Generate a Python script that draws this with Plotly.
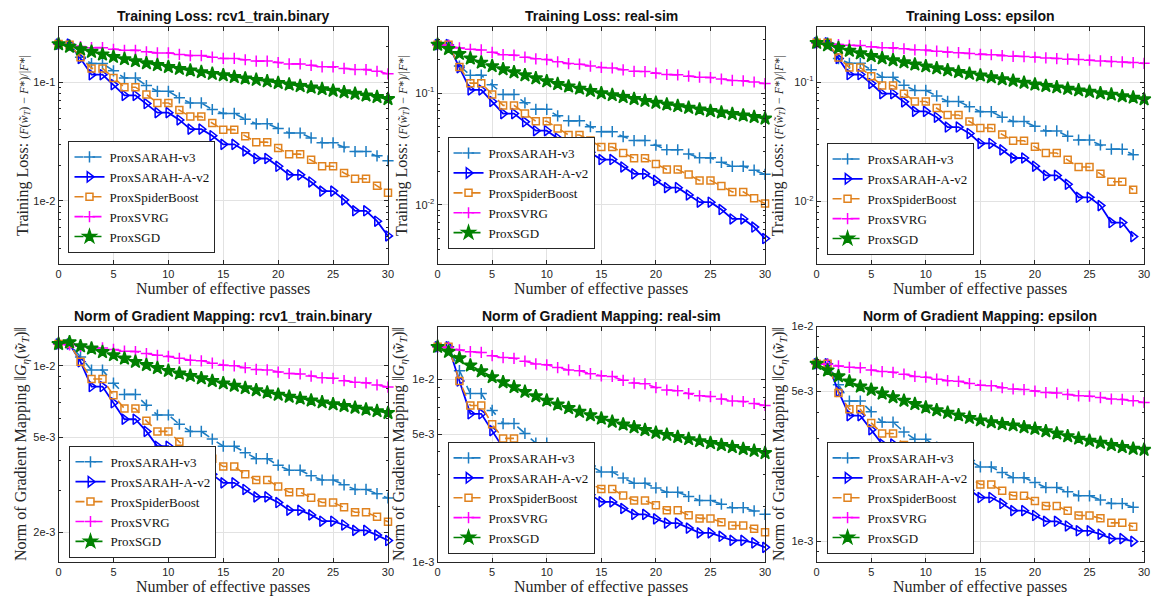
import plotly.graph_objects as go

# ---------------- data ----------------
passes = list(range(31))

methods = ["ProxSARAH-v3", "ProxSARAH-A-v2", "ProxSpiderBoost", "ProxSVRG", "ProxSGD"]

# Training loss: rcv1_train.binary
rcv1_loss_sarah_v3 = [0.210,0.205,0.163,0.144,0.144,0.125,0.109,0.109,0.094,0.084,0.084,0.074,0.067,0.067,0.059,0.0547,0.0547,0.0489,0.0447,0.0447,0.0409,0.0374,0.0374,0.034,0.0309,0.0309,0.0285,0.0261,0.0261,0.024,0.0218]
rcv1_loss_sarah_a = [0.210,0.210,0.159,0.116,0.116,0.0957,0.0776,0.0776,0.0662,0.0555,0.0555,0.0482,0.0403,0.0403,0.0355,0.030,0.030,0.0264,0.0228,0.0228,0.0196,0.0166,0.0166,0.01445,0.0121,0.0121,0.0102,0.00826,0.00826,0.00675,0.00507]
rcv1_loss_spider = [0.210,0.207,0.163,0.131,0.131,0.109,0.091,0.091,0.079,0.067,0.067,0.0583,0.0514,0.0514,0.0453,0.0399,0.0399,0.0351,0.0313,0.0313,0.0279,0.0248,0.0248,0.0222,0.0196,0.0196,0.0172,0.0154,0.0154,0.0134,0.0117]
rcv1_loss_svrg = [0.210,0.205,0.200,0.196,0.196,0.190,0.186,0.186,0.181,0.177,0.177,0.172,0.168,0.168,0.163,0.159,0.159,0.155,0.151,0.151,0.147,0.143,0.143,0.139,0.135,0.135,0.131,0.128,0.128,0.124,0.118]
rcv1_loss_sgd = [0.210,0.200,0.190,0.181,0.172,0.164,0.157,0.151,0.145,0.140,0.135,0.130,0.126,0.122,0.118,0.115,0.111,0.108,0.105,0.102,0.0989,0.0959,0.0931,0.0904,0.0877,0.0851,0.0826,0.0802,0.0776,0.0752,0.0724]

# Training loss: real-sim
realsim_loss_sarah_v3 = [0.272,0.270,0.175,0.145,0.145,0.119,0.0973,0.0973,0.082,0.0718,0.0718,0.0627,0.0566,0.0566,0.0501,0.0453,0.0453,0.0409,0.0377,0.0377,0.0343,0.0312,0.0312,0.0286,0.0264,0.0264,0.0241,0.0222,0.0222,0.0205,0.0188]
realsim_loss_sarah_a = [0.272,0.272,0.169,0.107,0.107,0.0844,0.0657,0.0657,0.0555,0.0462,0.0462,0.0396,0.0338,0.0338,0.0296,0.0255,0.0255,0.0219,0.019,0.019,0.0166,0.0143,0.0143,0.0123,0.0106,0.0106,0.0091,0.0075,0.0075,0.00635,0.00501]
realsim_loss_spider = [0.272,0.272,0.172,0.123,0.123,0.0973,0.0778,0.0778,0.0657,0.0562,0.0562,0.0484,0.0423,0.0423,0.0377,0.033,0.033,0.0292,0.0262,0.0262,0.0233,0.0208,0.0208,0.0187,0.0166,0.0166,0.0148,0.0131,0.0131,0.0115,0.0103]
realsim_loss_svrg = [0.272,0.268,0.254,0.247,0.244,0.232,0.221,0.219,0.210,0.203,0.200,0.191,0.184,0.182,0.175,0.170,0.168,0.162,0.157,0.156,0.151,0.147,0.146,0.142,0.139,0.138,0.134,0.130,0.129,0.126,0.122]
realsim_loss_sgd = [0.272,0.249,0.225,0.205,0.188,0.175,0.164,0.154,0.145,0.136,0.128,0.121,0.115,0.110,0.105,0.100,0.0962,0.0925,0.0889,0.0855,0.0822,0.0794,0.0767,0.0741,0.0716,0.0693,0.0673,0.0652,0.0632,0.0614,0.0594]

# Training loss: epsilon
eps_loss_sarah_v3 = [0.214,0.214,0.158,0.144,0.144,0.127,0.110,0.110,0.0944,0.0853,0.0853,0.0767,0.0689,0.0689,0.0622,0.0566,0.0566,0.0508,0.0468,0.0468,0.0426,0.039,0.039,0.0352,0.0327,0.0327,0.0297,0.0274,0.0274,0.0246]
eps_loss_sarah_a = [0.214,0.214,0.158,0.116,0.116,0.0975,0.0801,0.0801,0.0684,0.0569,0.0569,0.0508,0.042,0.042,0.0371,0.0306,0.0306,0.027,0.0231,0.0231,0.0197,0.0165,0.0165,0.0139,0.0108,0.0108,0.0092,0.00663,0.00663,0.00505]
eps_loss_spider = [0.214,0.214,0.161,0.133,0.133,0.112,0.0939,0.0939,0.0801,0.0689,0.0689,0.0607,0.0531,0.0531,0.0468,0.0412,0.0412,0.0363,0.0322,0.0322,0.0287,0.0254,0.0254,0.0223,0.0194,0.0194,0.017,0.0146,0.0146,0.0125]
eps_loss_svrg = [0.214,0.211,0.207,0.204,0.203,0.198,0.195,0.195,0.191,0.187,0.186,0.182,0.179,0.177,0.174,0.171,0.170,0.167,0.165,0.164,0.162,0.160,0.158,0.156,0.155,0.153,0.151,0.149,0.148,0.146,0.144]
eps_loss_sgd = [0.214,0.204,0.194,0.184,0.175,0.166,0.159,0.153,0.147,0.141,0.136,0.131,0.126,0.122,0.118,0.114,0.110,0.106,0.103,0.0991,0.0957,0.0931,0.0906,0.0881,0.0855,0.0832,0.0809,0.0787,0.0764,0.0743,0.0719]

# Norm of gradient mapping: rcv1_train.binary
rcv1_grad_sarah_v3 = [0.01236,0.01236,0.0109,0.0096,0.0096,0.00846,0.00759,0.00759,0.00684,0.00622,0.00622,0.00569,0.00531,0.00531,0.00493,0.0046,0.0046,0.00432,0.00408,0.00408,0.00383,0.00365,0.00365,0.00346,0.00332,0.00332,0.00317,0.00303,0.00303,0.00291,0.00279]
rcv1_grad_sarah_a = [0.01236,0.01236,0.0104,0.00819,0.00819,0.0070,0.00597,0.00597,0.00531,0.0046,0.0046,0.00421,0.0038,0.0038,0.00351,0.00323,0.00323,0.00303,0.00282,0.00282,0.00267,0.00248,0.00248,0.00237,0.00223,0.00223,0.00215,0.00204,0.00204,0.00195,0.00185]
rcv1_grad_spider = [0.01236,0.01236,0.0104,0.00881,0.00881,0.00752,0.00662,0.00662,0.00588,0.00531,0.00531,0.0048,0.00443,0.00443,0.00408,0.00378,0.00378,0.00351,0.00332,0.00332,0.00312,0.00295,0.00295,0.0028,0.00267,0.00267,0.00255,0.00243,0.00243,0.00233,0.00222]
rcv1_grad_svrg = [0.01236,0.01225,0.01208,0.01194,0.01189,0.01172,0.01153,0.01148,0.01127,0.01107,0.01096,0.01076,0.01057,0.0105,0.01026,0.01007,0.0100,0.00982,0.00966,0.00962,0.00942,0.00929,0.00925,0.00906,0.00891,0.00887,0.00867,0.00853,0.00849,0.00832,0.00815]
rcv1_grad_sgd = [0.01236,0.01256,0.0121,0.01183,0.01143,0.0111,0.01074,0.0104,0.01009,0.0098,0.00953,0.00929,0.00908,0.00887,0.00865,0.00845,0.00826,0.00807,0.00791,0.00773,0.00757,0.00743,0.00729,0.00716,0.00703,0.0069,0.00679,0.00668,0.00656,0.00646,0.00635]

# Norm of gradient mapping: real-sim
realsim_grad_sarah_v3 = [0.0151,0.0151,0.01117,0.00837,0.00837,0.00676,0.00573,0.00573,0.00506,0.00447,0.00447,0.00404,0.00364,0.00364,0.00335,0.00311,0.00311,0.00288,0.0027,0.0027,0.00254,0.00241,0.00241,0.00228,0.00217,0.00217,0.00207,0.00198,0.00198,0.0019,0.00182]
realsim_grad_sarah_a = [0.0151,0.0151,0.0098,0.00648,0.00648,0.00524,0.00421,0.00421,0.00367,0.00319,0.00319,0.00286,0.00257,0.00257,0.00233,0.00213,0.00213,0.00196,0.00182,0.00182,0.00172,0.00163,0.00163,0.00153,0.00144,0.00144,0.00138,0.00131,0.00131,0.00127,0.0012]
realsim_grad_spider = [0.0151,0.0151,0.0098,0.00719,0.00719,0.00568,0.00475,0.00475,0.00412,0.00364,0.00364,0.00324,0.0029,0.0029,0.00267,0.00251,0.00251,0.00231,0.00217,0.00217,0.00204,0.00192,0.00192,0.0018,0.00173,0.00173,0.00165,0.00158,0.00158,0.00152,0.00145]
realsim_grad_svrg = [0.0151,0.01496,0.01452,0.01419,0.01406,0.01349,0.01318,0.01306,0.01259,0.01216,0.01202,0.01161,0.01127,0.01117,0.01076,0.01047,0.01038,0.00989,0.00955,0.00946,0.00902,0.00875,0.00867,0.00836,0.00813,0.00805,0.0078,0.00762,0.00757,0.00738,0.0072]
realsim_grad_sgd = [0.0151,0.01419,0.01306,0.01194,0.01109,0.0103,0.00966,0.00908,0.00855,0.00809,0.00766,0.00729,0.00697,0.00665,0.00637,0.0061,0.00587,0.00566,0.00547,0.00528,0.0051,0.00497,0.00484,0.00471,0.00459,0.00448,0.00437,0.00426,0.00416,0.00406,0.00395]

# Norm of gradient mapping: epsilon
eps_grad_sarah_v3 = [0.00671,0.00671,0.00536,0.0045,0.0045,0.00401,0.00359,0.00359,0.00323,0.00299,0.00299,0.00275,0.00255,0.00255,0.00238,0.00222,0.00222,0.00209,0.00198,0.00198,0.00188,0.00178,0.00178,0.0017,0.00163,0.00163,0.00156,0.0015,0.0015,0.00144]
eps_grad_sarah_a = [0.00671,0.00671,0.00499,0.00385,0.00385,0.00331,0.00284,0.00284,0.00254,0.00222,0.00222,0.00206,0.00188,0.00188,0.00173,0.0016,0.0016,0.0015,0.00139,0.00139,0.00132,0.00124,0.00124,0.00118,0.00112,0.00112,0.00108,0.00103,0.00103,0.0010]
eps_grad_spider = [0.00671,0.00671,0.00491,0.00412,0.00412,0.00356,0.00318,0.00318,0.00281,0.00254,0.00254,0.00233,0.00212,0.00212,0.00197,0.00184,0.00184,0.00172,0.00163,0.00163,0.00154,0.00146,0.00146,0.00139,0.00132,0.00132,0.00128,0.00122,0.00122,0.00117]
eps_grad_svrg = [0.00671,0.00668,0.00656,0.00646,0.00643,0.00627,0.00617,0.00612,0.006,0.00586,0.00581,0.00569,0.0056,0.00556,0.00543,0.00533,0.0053,0.00519,0.00512,0.00509,0.00501,0.00493,0.00491,0.00483,0.00476,0.00474,0.00467,0.0046,0.00458,0.00451,0.00443]
eps_grad_sgd = [0.00671,0.00625,0.00587,0.00555,0.00526,0.00508,0.00488,0.00469,0.00452,0.00436,0.0042,0.00408,0.00397,0.00386,0.00376,0.00366,0.00359,0.00352,0.00347,0.0034,0.00334,0.00326,0.00318,0.00309,0.00301,0.00294,0.00288,0.00281,0.00275,0.0027,0.00267]

titles = ["Training Loss: rcv1_train.binary", "Training Loss: real-sim", "Training Loss: epsilon",
          "Norm of Gradient Mapping: rcv1_train.binary", "Norm of Gradient Mapping: real-sim",
          "Norm of Gradient Mapping: epsilon"]

panel_series = [
    [rcv1_loss_sarah_v3, rcv1_loss_sarah_a, rcv1_loss_spider, rcv1_loss_svrg, rcv1_loss_sgd],
    [realsim_loss_sarah_v3, realsim_loss_sarah_a, realsim_loss_spider, realsim_loss_svrg, realsim_loss_sgd],
    [eps_loss_sarah_v3, eps_loss_sarah_a, eps_loss_spider, eps_loss_svrg, eps_loss_sgd],
    [rcv1_grad_sarah_v3, rcv1_grad_sarah_a, rcv1_grad_spider, rcv1_grad_svrg, rcv1_grad_sgd],
    [realsim_grad_sarah_v3, realsim_grad_sarah_a, realsim_grad_spider, realsim_grad_svrg, realsim_grad_sgd],
    [eps_grad_sarah_v3, eps_grad_sarah_a, eps_grad_spider, eps_grad_svrg, eps_grad_sgd],
]

# y tick values / labels per panel
ytick_vals = [[0.1, 0.01], [0.1, 0.01], [0.1, 0.01],
              [0.01, 0.005, 0.002], [0.01, 0.005, 0.001], [0.01, 0.005, 0.001]]
ytick_text = [["1e-1", "1e-2"], ["10<sup>-1</sup>", "10<sup>-2</sup>"], ["10<sup>-1</sup>", "10<sup>-2</sup>"],
              ["1e-2", "5e-3", "2e-3"], ["1e-2", "5e-3", "1e-3"], ["1e-2", "5e-3", "1e-3"]]

# ---------------- style ----------------
styles = [
    dict(color="#1C7CC2", dash="dash", symbol="cross-thin-open", size=8, lw=1.6),
    dict(color="#0000FF", dash="solid", symbol="triangle-right-open", size=9, lw=1.8),
    dict(color="#E0821E", dash="dash", symbol="square-open", size=7, lw=1.6),
    dict(color="#FF00FF", dash="dash", symbol="cross-thin-open", size=8, lw=1.6),
    dict(color="#008000", dash="dash", symbol="star", size=10, lw=1.6),
]

W, H = 1161, 607
col_px = [(56, 388), (438, 768), (820, 1150)]
row_px = [(21, 263), (327, 567)]
yranges = [(-2.53, -0.53), (-2.526, -0.404), (-2.525, -0.533),
           (-2.822, -1.835), (-3.0, -1.71), (-3.095, -2.0)]
legend_px = [(66, 252), (448, 248), (830, 254), (67, 563), (448, 559), (830, 559)]
ytitle_x = [20, 402, 781, 18, 399, 782]

fig = go.Figure()
layout = dict(width=W, height=H, margin=dict(l=0, r=0, t=0, b=0),
              paper_bgcolor="white", plot_bgcolor="white", showlegend=True)
annotations = []
axis_color = "#262626"
grid_color = "#E2E2E2"

def minor_vals(lo, hi):
    vals = []
    for e in range(-4, 1):
        for m in range(1, 10):
            v = m * 10.0 ** e
            if 10 ** lo <= v <= 10 ** hi:
                vals.append(v)
    return vals

for p in range(6):
    r, c = divmod(p, 3)
    idx = "" if p == 0 else str(p + 1)
    x0, x1 = col_px[c]
    y0, y1 = row_px[r]
    xdom = [x0 / W, x1 / W]
    ydom = [1 - y1 / H, 1 - y0 / H]
    layout["xaxis" + idx] = dict(
        domain=xdom, anchor="y" + idx, range=[0, 30], tickvals=[0, 5, 10, 15, 20, 25, 30],
        ticks="inside", ticklen=4, tickcolor=axis_color, mirror="ticks", showline=True,
        linecolor=axis_color, linewidth=1, showgrid=True, gridcolor=grid_color, zeroline=False,
        tickfont=dict(family="Liberation Sans, Arial", size=11, color=axis_color))
    lo, hi = yranges[p]
    layout["yaxis" + idx] = dict(
        domain=ydom, anchor="x" + idx, type="log", range=[lo, hi],
        tickvals=ytick_vals[p], ticktext=ytick_text[p],
        ticks="inside", ticklen=4, tickcolor=axis_color, mirror="ticks", showline=True,
        linecolor=axis_color, linewidth=1, showgrid=True, gridcolor=grid_color, zeroline=False,
        minor=dict(tickvals=[v for v in minor_vals(lo, hi) if v not in ytick_vals[p]],
                   ticks="inside", ticklen=2, tickcolor=axis_color, showgrid=False),
        tickfont=dict(family="Liberation Sans, Arial", size=11, color=axis_color))
    lx, ly = legend_px[p]
    layout["legend" + idx] = dict(
        x=lx / W, y=1 - ly / H, xanchor="left", yanchor="bottom", bgcolor="white",
        bordercolor=axis_color, borderwidth=1, itemwidth=30, tracegroupgap=0,
        font=dict(family="Liberation Serif, Times New Roman", size=13, color="#111111"))

    for k, (name, ys) in enumerate(zip(methods, panel_series[p])):
        st = styles[k]
        xs = passes[:len(ys)]
        marker = dict(symbol=st["symbol"], size=st["size"], color=st["color"],
                      line=dict(color=st["color"], width=1.5))
        fig.add_trace(go.Scatter(
            x=xs, y=ys, name=name, mode="lines+markers", xaxis="x" + idx, yaxis="y" + idx,
            line=dict(color=st["color"], width=st["lw"], dash=st["dash"]),
            marker=marker, cliponaxis=False, legend="legend" + idx, showlegend=True))

    # panel title
    annotations.append(dict(
        text="<b>" + titles[p] + "</b>", x=(x0 + x1) / 2 / W, y=1 - (y0 - 11) / H,
        xref="paper", yref="paper", xanchor="center", yanchor="middle", showarrow=False,
        font=dict(family="Liberation Sans, Arial", size=14, color="#111111")))
    # x title
    annotations.append(dict(
        text="Number of effective passes", x=(x0 + x1) / 2 / W, y=1 - (y1 + 26) / H,
        xref="paper", yref="paper", xanchor="center", yanchor="middle", showarrow=False,
        font=dict(family="Liberation Serif, Times New Roman", size=16, color="#262626")))
    # y title
    if r == 0:
        ytxt = ("Training Loss: <span style='font-size:12px'>(<i>F</i>(<i>w̃</i><sub><i>T</i></sub>)"
                " − <i>F</i>*)/|<i>F</i>*|</span>")
    else:
        ytxt = "Norm of Gradient Mapping ‖<i>G</i><sub><i>η</i></sub>(<i>w̃</i><sub><i>T</i></sub>)‖"
    annotations.append(dict(
        text=ytxt, x=ytitle_x[p] / W, y=1 - (y0 + y1) / 2 / H, textangle=-90,
        xref="paper", yref="paper", xanchor="center", yanchor="middle", showarrow=False,
        font=dict(family="Liberation Serif, Times New Roman", size=16, color="#262626")))

layout["annotations"] = annotations
fig.update_layout(**layout)
fig.write_html("out.html")
